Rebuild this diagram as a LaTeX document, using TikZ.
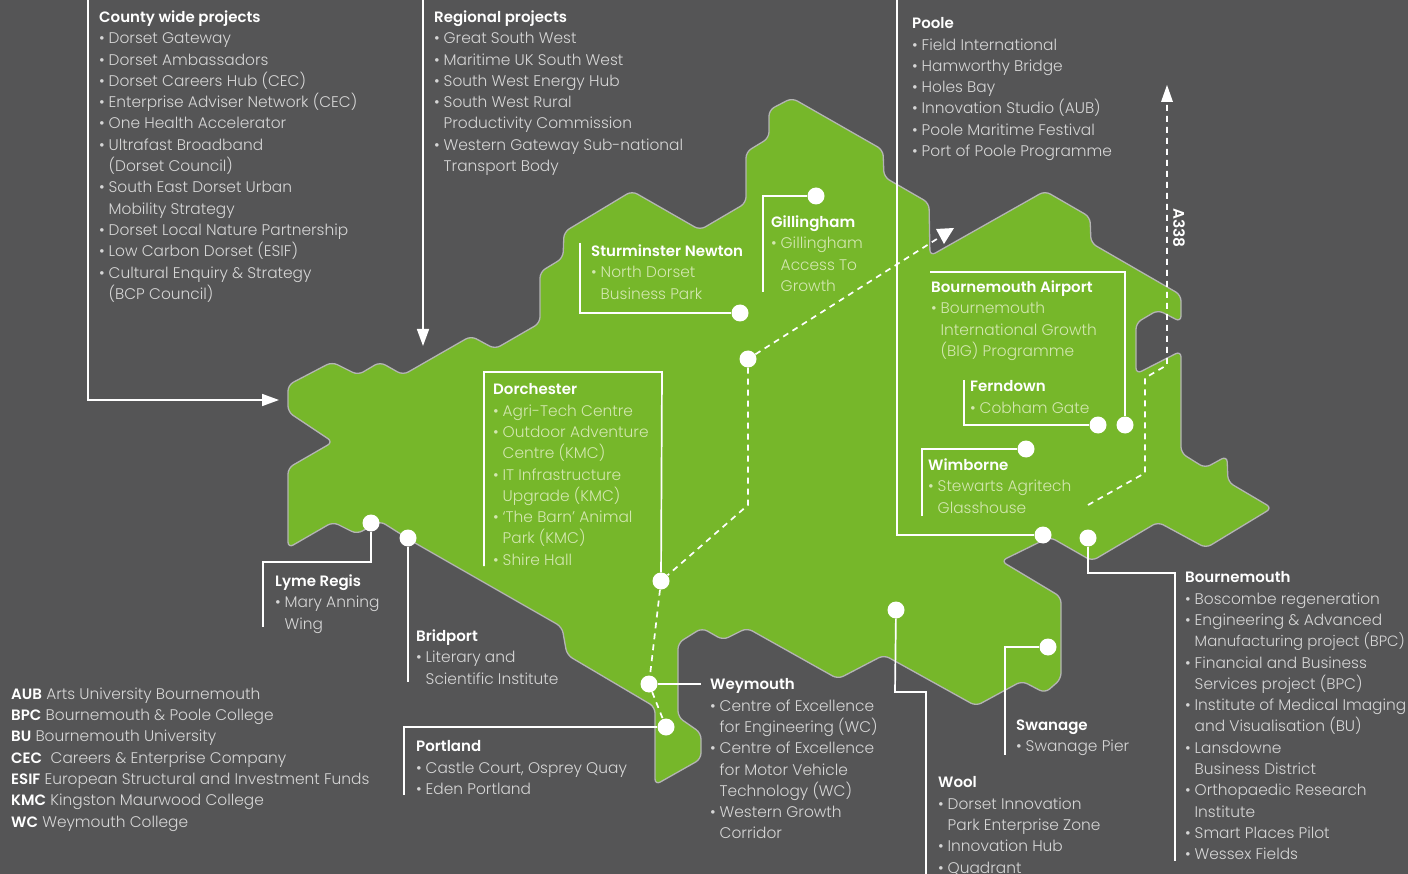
\documentclass[tikz,border=0pt]{standalone}
\usepackage{fontspec}
\setmainfont{Poppins}[UprightFont=* Light,BoldFont=* SemiBold]
\usetikzlibrary{arrows.meta}
\definecolor{bgc}{HTML}{555556}
\definecolor{grn}{HTML}{76B72A}
\definecolor{edgec}{HTML}{B4B4B4}
\definecolor{ong}{HTML}{D6D6D6}
\definecolor{ongr}{HTML}{D3E7B0}
\newcommand{\bl}[1]{\makebox[9.5pt][l]{\textbullet}#1}
\newcommand{\ct}[1]{\hspace*{9.5pt}#1}
\tikzset{
 txt/.style={anchor=north west,inner sep=0pt,align=left,font=\fontsize{15.4}{21.3}\selectfont,text=ong},
 grtxt/.style={txt,text=ongr},
 dot/.style={circle,fill=white,inner sep=0pt,minimum size=17pt},
 lead/.style={draw=white,line width=1.7pt},
 dashline/.style={draw=white,line width=1.7pt,dash pattern=on 6pt off 5pt},
 tip/.style={-{Triangle[length=17pt,width=12pt]}},
}
\newcommand{\hd}[1]{\textcolor{white}{\textbf{\fontsize{15}{21.3}\selectfont #1}}}
\begin{document}
\begin{tikzpicture}[x=1pt,y=-1pt]
\useasboundingbox (0,0) rectangle (1408,874);
\fill[bgc] (0,0) rectangle (1408,874);
\draw[fill=grn,draw=edgec,line width=1.3pt,rounded corners=6pt]
 (288,385)--(332,362)--(358,375)--(380,362)--(403,375)--(471,336)--(495,349)--(540,323)--(540,272)--(563,258)--(564,232)--(632,191)--(700,230)--(746,203)--(746,152)--(769,138)--(769,110)--(792,98)--(883,150)--(884,177)--(929,203)--(930,256)--(1045,191)--(1090,217)--(1091,243)--(1181,295)--(1181,322)--(1158,310)--(1136,323)--(1136,374)--(1181,351)--(1181,453)--(1205,468)--(1227,456)--(1228,482)--(1272,508)--(1206,548)--(1158,522)--(1092,561)--(1050,537)--(1001,561)--(1061,597)--(1061,679)--(1045,693)--(1022,681)--(976,706)--(884,655)--(838,679)--(747,628)--(723,640)--(702,628)--(678,643)--(678,717)--(701,733)--(701,759)--(655,785)--(655,707)--(567,655)--(562,627)--(415,543)--(380,521)--(357,534)--(333,522)--(288,548)--(288,468)--(333,442)--(288,412)--cycle;
% dots
\node[dot] (dgil) at (816,196) {};
\node[dot] (dstu) at (740,313) {};
\node[dot] (dmid) at (748,359) {};
\node[dot] (ddor) at (661,581) {};
\node[dot] (dwey) at (649,684) {};
\node[dot] (dpor) at (666,727) {};
\node[dot] (dlym) at (371,523) {};
\node[dot] (dbri) at (408,538) {};
\node[dot] (dfer) at (1098,425) {};
\node[dot] (dbia) at (1125,425) {};
\node[dot] (dwim) at (1026,449) {};
\node[dot] (dpoo) at (1043,535) {};
\node[dot] (dbou) at (1088,538) {};
\node[dot] (dwoo) at (896,610) {};
\node[dot] (dswa) at (1048,647) {};
% connector ends
\coordinate (ca) at (88,0); \coordinate (cb) at (279,400);
\coordinate (ra) at (423,0); \coordinate (rb) at (423,346);
\coordinate (pa) at (897,0);
\coordinate (gilend) at (763,292);
\coordinate (stuend) at (580,243);
\coordinate (dorend) at (484,566);
\coordinate (biaend) at (930,272);
\coordinate (ferend) at (964,380);
\coordinate (wimend) at (922,516);
\coordinate (lymend) at (263,627);
\coordinate (briend) at (408,682);
\coordinate (porend) at (404,795);
\coordinate (weyend) at (701,684);
\coordinate (wooend) at (926,874);
\coordinate (swaend) at (1005,755);
\coordinate (bouend) at (1175,861);
\coordinate (astart) at (1088,505);
\coordinate (aend) at (1167,85);
\coordinate (gend) at (954,228);
\draw[lead,tip] (ca) |- (cb);
\draw[lead,tip] (ra) -- (rb);
\draw[lead] (pa) |- (dpoo);
\draw[lead] (gilend) |- (dgil);
\draw[lead] (stuend) |- (dstu);
\draw[lead] (dorend) -- (484,372) -- (662,372) -- (ddor);
\draw[lead] (biaend) -| (dbia);
\draw[lead] (ferend) |- (dfer);
\draw[lead] (wimend) |- (dwim);
\draw[lead] (dlym) -- (371,562) -- (263,562) -- (lymend);
\draw[lead] (dbri) -- (briend);
\draw[lead] (dpor) -| (porend);
\draw[lead] (dwey) -- (weyend);
\draw[lead] (dwoo) -- (895,692) -- (926,692) -- (wooend);
\draw[lead] (dswa) -| (swaend);
\draw[lead] (dbou) -- (1088,573) -- (1175,573) -- (bouend);
\draw[dashline] (astart) -- (1145,473) -- (1145,378) -- (1167,365) -- (1167,100);
\fill[white] (aend) -- (1173,102) -- (1161,102) -- cycle;
\draw[dashline] (dmid) -- (940,237);
\fill[white] (gend) -- (944,244) -- (936,229) -- cycle;
\draw[dashline] (dmid) -- (748,505) -- (ddor);
\draw[dashline] (ddor) -- (dwey) -- (dpor);
% texts
\node[txt] (tcounty) at (99,10.5) {\hd{County wide projects}\\\bl{Dorset Gateway}\\\bl{Dorset Ambassadors}\\\bl{Dorset Careers Hub (CEC)}\\\bl{Enterprise Adviser Network (CEC)}\\\bl{One Health Accelerator}\\\bl{Ultrafast Broadband}\\\ct{(Dorset Council)}\\\bl{South East Dorset Urban}\\\ct{Mobility Strategy}\\\bl{Dorset Local Nature Partnership}\\\bl{Low Carbon Dorset (ESIF)}\\\bl{Cultural Enquiry \& Strategy}\\\ct{(BCP Council)}};
\node[txt] (tregion) at (434,10.5) {\hd{Regional projects}\\\bl{Great South West}\\\bl{Maritime UK South West}\\\bl{South West Energy Hub}\\\bl{South West Rural}\\\ct{Productivity Commission}\\\bl{Western Gateway Sub-national}\\\ct{Transport Body}};
\node[txt] (tpoole) at (912,17.5) {\hd{Poole}\\\bl{Field International}\\\bl{Hamworthy Bridge}\\\bl{Holes Bay}\\\bl{Innovation Studio (AUB)}\\\bl{Poole Maritime Festival}\\\bl{Port of Poole Programme}};
\node[grtxt] (tgil) at (771,215.5) {\hd{Gillingham}\\\bl{Gillingham}\\\ct{Access To}\\\ct{Growth}};
\node[grtxt] (tstu) at (591,244.5) {\hd{Sturminster Newton}\\\bl{North Dorset}\\\ct{Business Park}};
\node[grtxt] (tbia) at (931,280.5) {\hd{Bournemouth Airport}\\\bl{Bournemouth}\\\ct{International Growth}\\\ct{(BIG) Programme}};
\node[grtxt] (tdor) at (493,383.5) {\hd{Dorchester}\\\bl{Agri-Tech Centre}\\\bl{Outdoor Adventure}\\\ct{Centre (KMC)}\\\bl{IT Infrastructure}\\\ct{Upgrade (KMC)}\\\bl{‘The Barn’ Animal}\\\ct{Park (KMC)}\\\bl{Shire Hall}};
\node[grtxt] (tfer) at (970,380.5) {\hd{Ferndown}\\\bl{Cobham Gate}};
\node[grtxt] (twim) at (928,458.5) {\hd{Wimborne}\\\bl{Stewarts Agritech}\\\ct{Glasshouse}};
\node[txt] (tlym) at (275,574.5) {\hd{Lyme Regis}\\\bl{Mary Anning}\\\ct{Wing}};
\node[txt] (tbri) at (416,629.5) {\hd{Bridport}\\\bl{Literary and}\\\ct{Scientific Institute}};
\node[txt] (tbou) at (1185,571.5) {\hd{Bournemouth}\\\bl{Boscombe regeneration}\\\bl{Engineering \& Advanced}\\\ct{{\fontsize{14.9}{21.3}\selectfont Manufacturing project (BPC)}}\\\bl{Financial and Business}\\\ct{Services project (BPC)}\\\bl{Institute of Medical Imaging}\\\ct{and Visualisation (BU)}\\\bl{Lansdowne}\\\ct{Business District}\\\bl{Orthopaedic Research}\\\ct{Institute}\\\bl{Smart Places Pilot}\\\bl{Wessex Fields}};
\node[txt] (twey) at (710,678.5) {\hd{Weymouth}\\\bl{Centre of Excellence}\\\ct{for Engineering (WC)}\\\bl{Centre of Excellence}\\\ct{for Motor Vehicle}\\\ct{Technology (WC)}\\\bl{Western Growth}\\\ct{Corridor}};
\node[txt] (tpor) at (416,740.5) {\hd{Portland}\\\bl{Castle Court, Osprey Quay}\\\bl{Eden Portland}};
\node[txt] (tswa) at (1016,719.5) {\hd{Swanage}\\\bl{Swanage Pier}};
\node[txt] (twoo) at (938,776.5) {\hd{Wool}\\\bl{Dorset Innovation}\\\ct{Park Enterprise Zone}\\\bl{Innovation Hub}\\\bl{Quadrant}};
\node[txt] (tleg) at (11,687.5) {\hd{AUB} Arts University Bournemouth\\\hd{BPC} Bournemouth \& Poole College\\\hd{BU} Bournemouth University\\\hd{CEC}\ \ Careers \& Enterprise Company\\\hd{ESIF} European Structural and Investment Funds\\\hd{KMC} Kingston Maurwood College\\\hd{WC} Weymouth College};
\node[rotate=-90,text=white,font=\fontsize{15.4}{15.4}\selectfont\bfseries,inner sep=0pt] (ta338) at (1179,228) {A338};
\end{tikzpicture}
\end{document}
